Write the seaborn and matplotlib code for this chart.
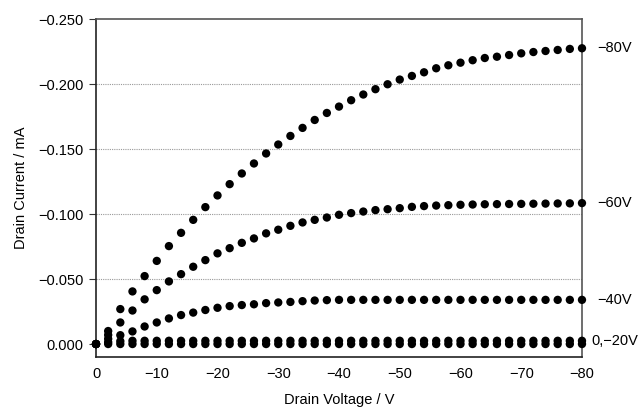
import numpy as np
import pandas as pd
import matplotlib
matplotlib.use("Agg")
import matplotlib.pyplot as plt
import seaborn as sns
from matplotlib.ticker import FuncFormatter, MultipleLocator

# Drain voltage sweep (V), every 2 V from 0 to -80
drain_voltage = [0, -2, -4, -6, -8, -10, -12, -14, -16, -18, -20,
                 -22, -24, -26, -28, -30, -32, -34, -36, -38, -40,
                 -42, -44, -46, -48, -50, -52, -54, -56, -58, -60,
                 -62, -64, -66, -68, -70, -72, -74, -76, -78, -80]

# Drain current (mA) for each gate voltage
current_g80 = [0.0, -0.0100, -0.0269, -0.0405, -0.0523, -0.0640, -0.0754, -0.0856, -0.0956, -0.1054, -0.1144,
               -0.1231, -0.1313, -0.1390, -0.1467, -0.1536, -0.1602, -0.1664, -0.1725, -0.1779, -0.1828,
               -0.1877, -0.1921, -0.1962, -0.2000, -0.2036, -0.2064, -0.2092, -0.2123, -0.2146, -0.2166,
               -0.2185, -0.2202, -0.2212, -0.2225, -0.2238, -0.2248, -0.2256, -0.2264, -0.2272, -0.2277]

current_g60 = [0.0, -0.0070, -0.0166, -0.0258, -0.0344, -0.0415, -0.0482, -0.0538, -0.0595, -0.0646, -0.0698,
               -0.0738, -0.0779, -0.0813, -0.0852, -0.0880, -0.0910, -0.0936, -0.0956, -0.0974, -0.0995,
               -0.1008, -0.1020, -0.1031, -0.1038, -0.1046, -0.1056, -0.1062, -0.1066, -0.1069, -0.1072,
               -0.1074, -0.1076, -0.1077, -0.1078, -0.1079, -0.1080, -0.1081, -0.1082, -0.1083, -0.1085]

current_g40 = [0.0, -0.0040, -0.0068, -0.0097, -0.0135, -0.0166, -0.0197, -0.0223, -0.0242, -0.0262, -0.0279,
               -0.0292, -0.0300, -0.0306, -0.0315, -0.0320, -0.0324, -0.0330, -0.0335, -0.0338, -0.0340,
               -0.0340, -0.0340, -0.0340, -0.0340, -0.0340, -0.0340, -0.0340, -0.0340, -0.0340, -0.0340,
               -0.0340, -0.0340, -0.0340, -0.0340, -0.0340, -0.0340, -0.0340, -0.0340, -0.0340, -0.0340]

current_g20 = [0.0, -0.0015, -0.0022, -0.0025, -0.0025, -0.0025, -0.0025, -0.0025, -0.0025, -0.0025, -0.0025,
               -0.0025, -0.0025, -0.0025, -0.0025, -0.0025, -0.0025, -0.0025, -0.0025, -0.0025, -0.0025,
               -0.0025, -0.0025, -0.0025, -0.0025, -0.0025, -0.0025, -0.0025, -0.0025, -0.0025, -0.0025,
               -0.0025, -0.0025, -0.0025, -0.0025, -0.0025, -0.0025, -0.0025, -0.0025, -0.0025, -0.0025]

current_g0 = [0.0] * len(drain_voltage)

series = [current_g80, current_g60, current_g40, current_g20, current_g0]

# curve labels on the right side
curve_labels = ["\u221280V", "\u221260V", "\u221240V", "0,\u221220V"]
label_values = [current_g80[-1], current_g60[-1], current_g40[-1], current_g20[-1]]

sns.set_style("white")
plt.rcParams['font.family'] = ['Liberation Sans', 'DejaVu Sans']
plt.rcParams['text.color'] = 'black'
plt.rcParams['axes.labelcolor'] = 'black'
plt.rcParams['xtick.color'] = 'black'
plt.rcParams['ytick.color'] = 'black'

fig = plt.figure(figsize=(6.38, 4.09), dpi=100)
ax = fig.add_axes([0.1505, 0.1271, 0.7617, 0.8257])

for cur in series:
    sns.scatterplot(x=drain_voltage, y=cur, color="black", s=36,
                    edgecolor="none", linewidth=0, ax=ax, zorder=3,
                    clip_on=False)

ax.set_xlim(0, -80)
ax.set_ylim(0.01, -0.25)

ax.xaxis.set_major_locator(MultipleLocator(10))
ax.yaxis.set_major_locator(MultipleLocator(0.05))

def fmt_x(v, pos):
    s = "%d" % round(v)
    return s.replace("-", "\u2212")

def fmt_y(v, pos):
    if abs(v) < 1e-9:
        return "0.000"
    return ("%.3f" % v).replace("-", "\u2212")

ax.xaxis.set_major_formatter(FuncFormatter(fmt_x))
ax.yaxis.set_major_formatter(FuncFormatter(fmt_y))

# dotted horizontal gridlines
for yv in [-0.05, -0.10, -0.15, -0.20]:
    ax.axhline(yv, color="#999999", linestyle=(0, (1, 1)), linewidth=0.8, zorder=1)

ax.tick_params(axis="y", which="major", direction="out", length=5, width=0.8,
               color="#333333", labelsize=10.5, pad=4, left=True)
ax.tick_params(axis="x", which="major", length=0, labelsize=10.5, pad=7)

for side in ["left", "bottom"]:
    ax.spines[side].set_color("#222222")
    ax.spines[side].set_linewidth(1.2)
for side in ["top", "right"]:
    ax.spines[side].set_color("#555555")
    ax.spines[side].set_linewidth(1.2)

ax.set_xlabel("Drain Voltage / V", fontsize=10.5, labelpad=9)
ax.set_ylabel("Drain Current / mA", fontsize=10.5, labelpad=7)

for lab, val in zip(curve_labels, label_values):
    ax.annotate(lab, xy=(1.0, val), xycoords=("axes fraction", "data"),
                xytext=(11 if lab.startswith("\u2212") else 7, 0),
                textcoords="offset points", va="center", ha="left", fontsize=10.5)

fig.savefig("out.png", dpi=100)
